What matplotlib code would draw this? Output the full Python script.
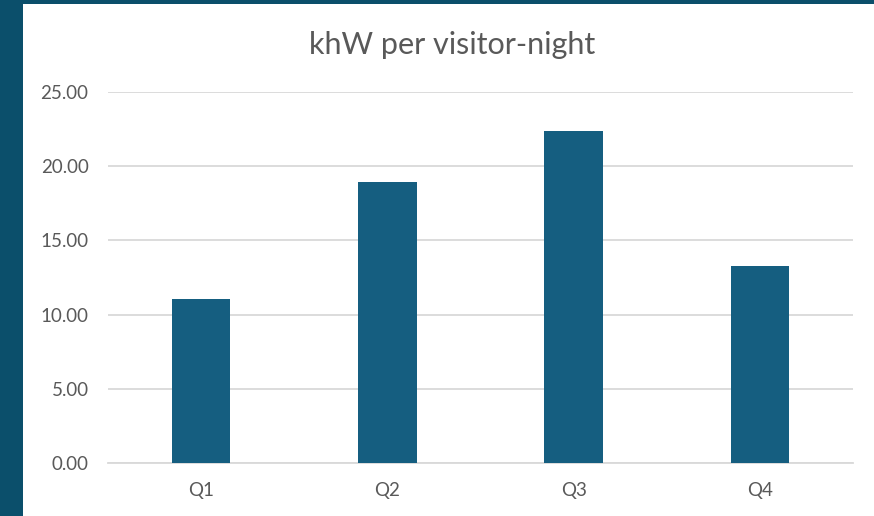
import matplotlib
matplotlib.use("Agg")
import matplotlib.pyplot as plt
from matplotlib.patches import Rectangle

categories = ["Q1", "Q2", "Q3", "Q4"]
values = [11.05, 18.93, 22.37, 13.27]
yticks = [0, 5, 10, 15, 20, 25]
title = "khW per visitor-night"

W, H = 874, 516
fig = plt.figure(figsize=(W / 100, H / 100), dpi=100)
fig.patch.set_facecolor("#0b4f6b")
fig.patches.append(Rectangle((23 / W, 0), 1 - 23 / W, (H - 4) / H,
                             transform=fig.transFigure, facecolor="white",
                             edgecolor="none", zorder=-10))

ax = fig.add_axes([108 / W, (H - 463) / H, (853 - 108) / W, (463 - 92) / H])
ax.set_facecolor("white")
ax.bar(range(len(categories)), values, width=0.315, color="#155e80", zorder=3)
ax.set_xlim(-0.5, len(categories) - 0.5)
ax.set_ylim(0, 25)
ax.set_yticks(yticks)
ax.set_yticklabels([f"{v:.2f}" for v in yticks])
ax.set_xticks(range(len(categories)))
ax.set_xticklabels(categories)
ax.grid(axis="y", color="#d9d9d9", linewidth=1.3, zorder=0)
for s in ["top", "right", "left"]:
    ax.spines[s].set_visible(False)
ax.spines["bottom"].set_color("#d9d9d9")
ax.spines["bottom"].set_linewidth(1.3)
ax.tick_params(axis="both", length=0, labelsize=13.5, labelcolor="#595959")
ax.tick_params(axis="y", pad=14)
ax.tick_params(axis="x", pad=14)
for lab in ax.get_xticklabels() + ax.get_yticklabels():
    lab.set_fontfamily("Lato")

fig.text(452 / W, 1 - 45 / H, title, ha="center", va="center",
         fontsize=22, color="#595959", family="Lato")

fig.savefig("out.png", dpi=100, facecolor=fig.get_facecolor())
